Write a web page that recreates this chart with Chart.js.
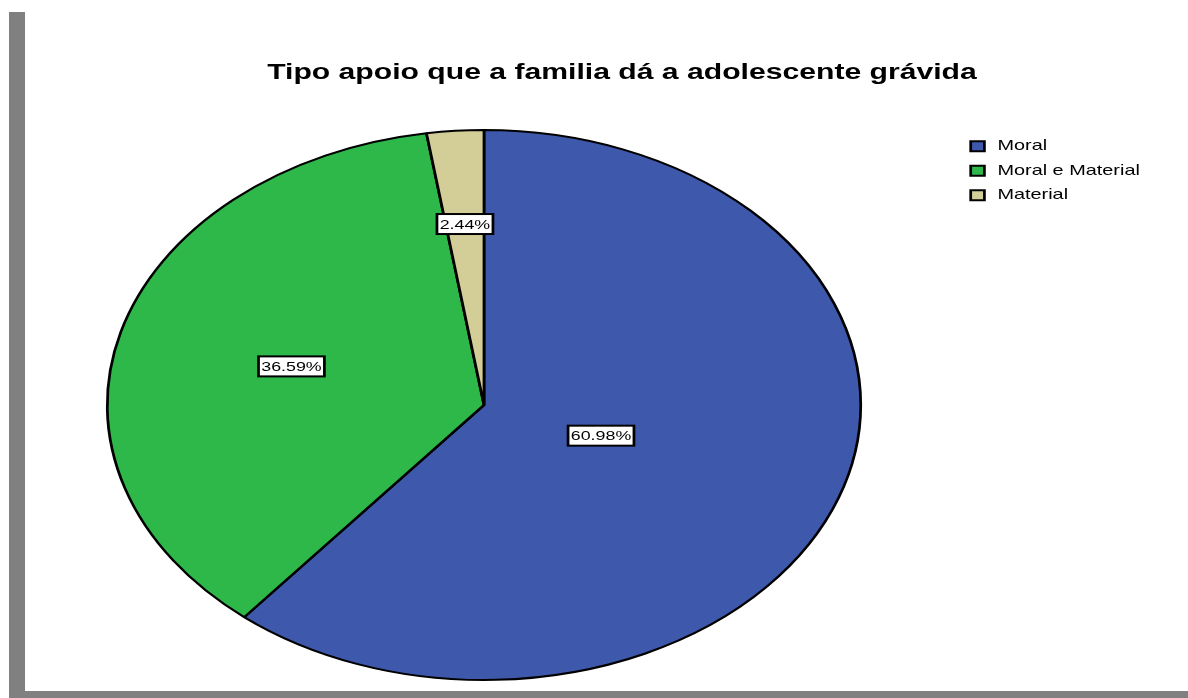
<!DOCTYPE html>
<html>
<head>
<meta charset="utf-8">
<script src="https://cdn.jsdelivr.net/npm/chart.js@4.4.1/dist/chart.umd.min.js"></script>
<style>
  html, body { margin: 0; padding: 0; background: #fff; }
  #wrap { position: relative; width: 1188px; height: 698px; overflow: hidden; }
  #shadowLeft { position: absolute; left: 9px; top: 12px; width: 16px; height: 686px; background: #808080; }
  #shadowBottom { position: absolute; left: 9px; top: 691px; width: 1179px; height: 7px; background: #808080; }
  #chartBox { position: absolute; left: 0; top: 0; width: 1188px; height: 698px; }
</style>
</head>
<body>
<div id="wrap">
  <div id="shadowLeft"></div>
  <div id="shadowBottom"></div>
  <div id="chartBox"><canvas id="supportChart"></canvas></div>
</div>
<script>
const categories = ['Moral', 'Moral e Material', 'Material'];
const percentages = [60.98, 36.59, 2.44];
const sliceColors = ['#3E58AC', '#2EB84A', '#D3CE97'];
const chartTitle = 'Tipo apoio que a familia dá a adolescente grávida';

const fontFamily = 'Arial, "Liberation Sans", Helvetica, sans-serif';
const stretchX = 1.37;            // the original picture is widened
const pieCenterX = 484;           // pie centre on screen
const labelDepth = [0.33, 0.53, 0.66];

function drawLabels(chart) {
    const ctx = chart.ctx;
    const arcs = chart.getDatasetMeta(0).data;
    ctx.save();
    ctx.font = '13px ' + fontFamily;
    ctx.textAlign = 'center';
    ctx.textBaseline = 'middle';
    arcs.forEach((arc, i) => {
        const p = arc.getProps(['x', 'y', 'startAngle', 'endAngle', 'outerRadius'], true);
        const mid = (p.startAngle + p.endAngle) / 2;
        const r = p.outerRadius * labelDepth[i];
        const x = p.x + Math.cos(mid) * r;
        const y = p.y + Math.sin(mid) * r;
        const text = percentages[i].toFixed(2) + '%';
        const w = ctx.measureText(text).width + 4;
        const h = 20;
        ctx.fillStyle = '#fff';
        ctx.fillRect(x - w / 2, y - h / 2, w, h);
        ctx.lineWidth = 2;
        ctx.strokeStyle = '#000';
        ctx.strokeRect(x - w / 2, y - h / 2, w, h);
        ctx.fillStyle = '#000';
        ctx.fillText(text, x, y + 1);
    });
    ctx.restore();
}

const stretchPlugin = {
    id: 'stretch',
    beforeDraw(chart) {
        chart.ctx.save();
        chart.ctx.scale(stretchX, 1);
    },
    beforeDatasetsDraw(chart) {
        const area = chart.chartArea;
        chart.ctx.save();
        chart.ctx.translate(pieCenterX / stretchX - (area.left + area.right) / 2, 0);
    },
    afterDatasetsDraw(chart) {
        drawLabels(chart);
        chart.ctx.restore();
    },
    afterDraw(chart) {
        chart.ctx.restore();
    }
};

new Chart(document.getElementById('supportChart'), {
    type: 'pie',
    data: {
        labels: categories,
        datasets: [{
            data: percentages,
            backgroundColor: sliceColors,
            borderColor: '#000',
            borderWidth: 2,
            clip: false
        }]
    },
    options: {
        responsive: true,
        maintainAspectRatio: false,
        animation: false,
        events: [],
        layout: { padding: { top: 0, bottom: 17, left: 66, right: 346 } },
        plugins: {
            title: {
                display: true,
                text: chartTitle,
                color: '#000',
                font: { family: fontFamily, size: 22, weight: 'bold' },
                padding: { top: 60, bottom: 42.6 }
            },
            legend: {
                position: 'right',
                align: 'start',
                fullSize: false,
                labels: {
                    color: '#000',
                    font: { family: fontFamily, size: 14.5 },
                    usePointStyle: true,
                    pointStyle: 'rect',
                    boxWidth: 14.5,
                    boxHeight: 10,
                    padding: 10
                }
            },
            tooltip: { enabled: false }
        }
    },
    plugins: [stretchPlugin]
});
</script>
</body>
</html>
